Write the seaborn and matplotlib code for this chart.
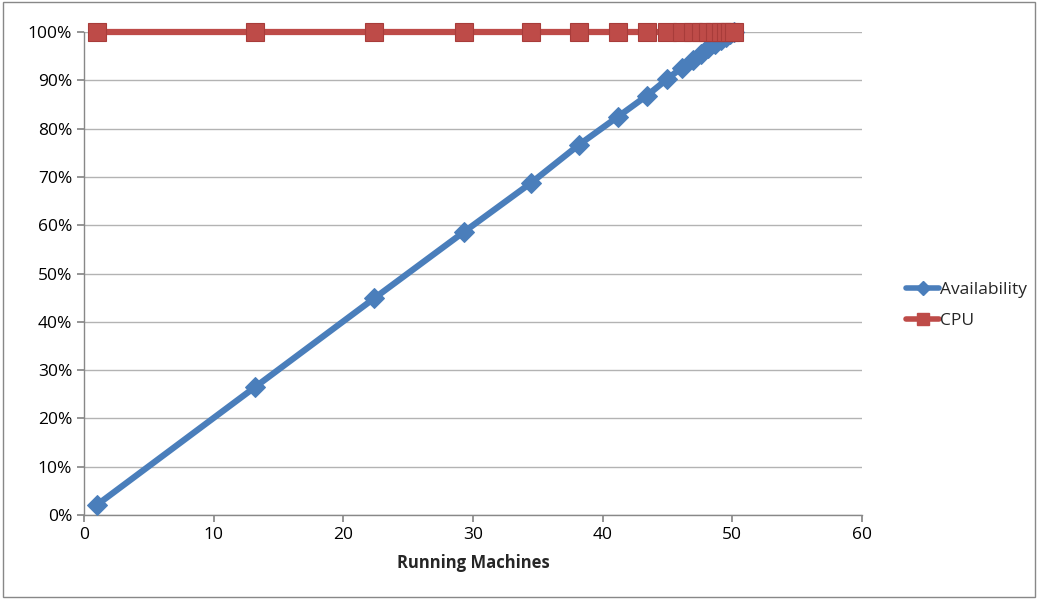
import matplotlib
matplotlib.use("Agg")
import matplotlib.pyplot as plt
import seaborn as sns
import pandas as pd
from matplotlib.ticker import FuncFormatter, MultipleLocator
from matplotlib.lines import Line2D

machines = [1, 13.2, 22.4, 29.3, 34.5, 38.2, 41.2, 43.4, 45.0, 46.1, 47.0, 47.6, 48.1, 48.7, 49.1, 49.5, 49.8, 50.1]
availability = [2.1, 26.5, 44.9, 58.6, 68.8, 76.7, 82.5, 86.8, 90.3, 92.6, 94.3, 95.5, 96.7, 97.6, 98.4, 99.0, 99.6, 100.0]
cpu = [100.0] * len(machines)

df = pd.DataFrame({"Running Machines": machines, "Availability": availability, "CPU": cpu})

sns.set_theme(style="white")
plt.rcParams["font.family"] = ["Open Sans", "DejaVu Sans"]

fig = plt.figure(figsize=(10.38, 5.99), dpi=100)
ax = fig.add_axes([0.0809, 0.1402, 0.7495, 0.8064])

blue = "#4a7ebb"
red = "#be4b48"
sns.lineplot(data=df, x="Running Machines", y="Availability", ax=ax, color=blue, lw=4.5,
             marker="D", markersize=10, markeredgecolor=blue, zorder=3)
sns.lineplot(data=df, x="Running Machines", y="CPU", ax=ax, color=red, lw=4.5,
             marker="s", markersize=13, markeredgecolor="#a83c3a", markeredgewidth=0.8, zorder=4)
for ln in ax.lines:
    ln.set_clip_on(False)

ax.set_xlim(0, 60)
ax.set_ylim(0, 100)
ax.xaxis.set_major_locator(MultipleLocator(10))
ax.yaxis.set_major_locator(MultipleLocator(10))
ax.yaxis.set_major_formatter(FuncFormatter(lambda v, p: f"{int(round(v))}%"))
ax.grid(axis="y", color="#b3b3b3", lw=1)
ax.set_axisbelow(True)
for s in ["top", "right"]:
    ax.spines[s].set_visible(False)
for s in ["left", "bottom"]:
    ax.spines[s].set_color("#888888")
    ax.spines[s].set_linewidth(1)
ax.tick_params(axis="both", which="major", length=5, color="#888888", labelsize=12.5, direction="out",
               left=True, bottom=True, labelcolor="black")
ax.set_xlabel("Running Machines", fontsize=12, fontweight="bold", labelpad=8)
ax.set_ylabel("")

handles = [Line2D([], [], color=blue, lw=4, marker="D", markersize=7, markeredgecolor=blue),
           Line2D([], [], color=red, lw=4, marker="s", markersize=9, markeredgecolor=red)]
labels = ["Availability", "CPU"]
fig.legend(handles, labels, loc="center left", bbox_to_anchor=(0.858, 0.49), frameon=False,
           fontsize=12.5, handlelength=1.9, handletextpad=0.05, labelspacing=0.9)

border = plt.Rectangle((0.003, 0.003), 0.994, 0.994, transform=fig.transFigure, fill=False,
                       edgecolor="#888888", lw=1)
fig.patches.append(border)

fig.savefig("out.png", dpi=100)
